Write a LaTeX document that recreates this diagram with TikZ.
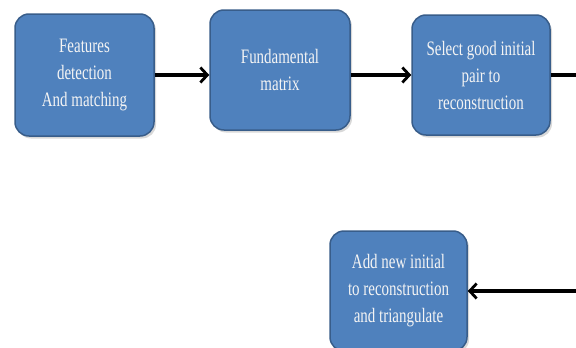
\documentclass[tikz,border=0pt]{standalone}
\usepackage{fontspec}
\setmainfont[FakeStretch=0.73]{Liberation Serif}
\usetikzlibrary{arrows.meta,shadows}
\definecolor{boxfill}{HTML}{4F81BD}
\definecolor{boxedge}{HTML}{385D8A}
\definecolor{boxtext}{HTML}{F4F4F4}
\tikzset{
  stepbox/.style={draw=boxedge, line width=1.5pt, fill=boxfill, rounded corners=14pt,
    text=boxtext, align=center, font=\fontsize{20.5}{27}\selectfont,
    minimum width=138pt, minimum height=120pt, inner sep=2pt,
    drop shadow={shadow xshift=2pt, shadow yshift=-2.5pt, opacity=0.3}},
  flow/.style={line width=3.5pt, -{Straight Barb[length=7pt,width=15pt,line width=2.8pt]}},
  plainflow/.style={line width=3.5pt}
}
\begin{document}
\begin{tikzpicture}[x=1pt,y=-1pt]
\clip (0,0) rectangle (576,348);
\fill[white] (0,0) rectangle (576,348);
\node[stepbox, minimum width=139pt, minimum height=122pt] (b1) at (84.5,75) {Features\\detection\\And matching};
\node[stepbox, minimum width=140pt] (b2) at (280,70) {Fundamental\\matrix};
\node[stepbox] (b3) at (481,75) {Select good initial\\pair to\\reconstruction};
\node[stepbox, minimum width=137pt] (b4) at (398.5,291) {Add new initial\\to reconstruction\\and triangulate};
\coordinate (r1) at (578,75);
\coordinate (r2) at (578,291);
\draw[flow] (b1.east) -- (b1.east -| b2.west);
\draw[flow] (b3.west -| b2.east) -- (b3.west);
\draw[plainflow] (b3.east) -- (r1);
\draw[flow] (r2) -- (b4.east);
\end{tikzpicture}
\end{document}
